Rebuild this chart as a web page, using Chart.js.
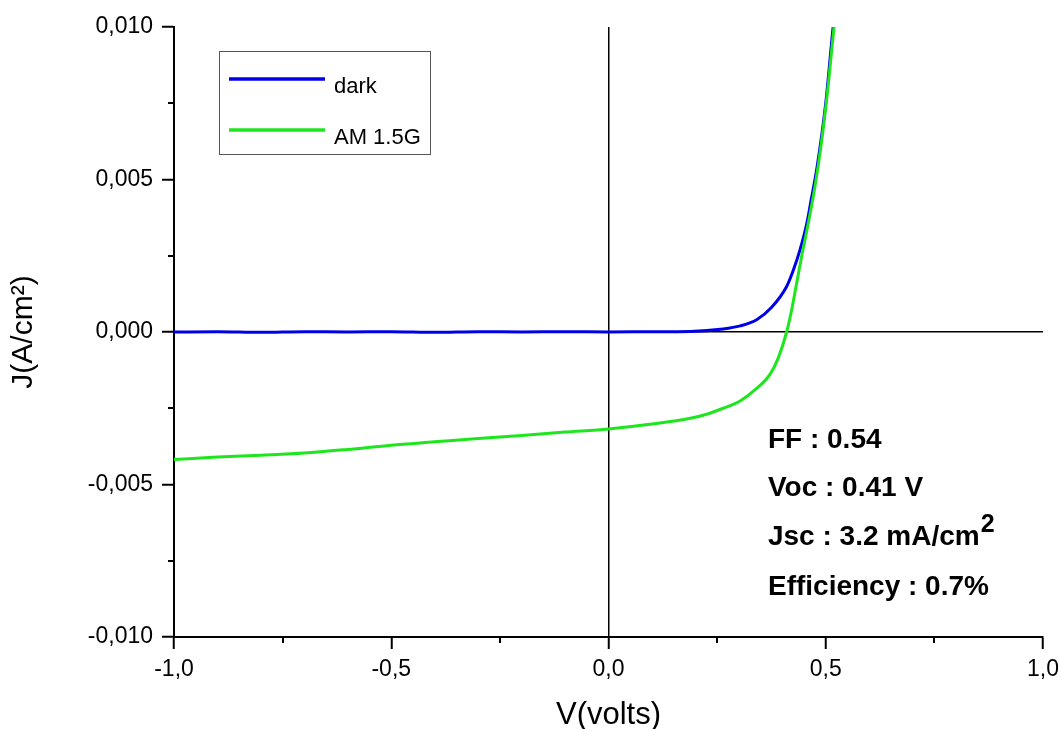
<!DOCTYPE html>
<html>
<head>
<meta charset="utf-8">
<script src="https://cdn.jsdelivr.net/npm/chart.js@4.4.1/dist/chart.umd.min.js"></script>
<style>
  body { margin: 0; background: #fff; }
  #wrap { width: 1062px; height: 729px; }
</style>
</head>
<body>
<div id="wrap"><canvas id="ivChart" width="1062" height="729"></canvas></div>
<script>
// J-V curves (V in volts, J in A/cm2)
const darkV = [-1.0, -0.9, -0.8, -0.7, -0.6, -0.5, -0.4, -0.3, -0.2, -0.1, 0.0, 0.1, 0.188, 0.264, 0.303, 0.341, 0.375, 0.41, 0.4255, 0.4407, 0.457, 0.466, 0.48, 0.5, 0.517, 0.522];
const darkJ = [0.00000, 0.00001, -0.00001, 0.00001, 0.00000, 0.00001, -0.00001, 0.00001, 0.00000, 0.00001, 0.00000, 0.00001, 0.00002, 0.00010, 0.00020, 0.00040, 0.00080, 0.00149, 0.00203, 0.00269, 0.00360, 0.00430, 0.00540, 0.00750, 0.01000, 0.01060];

const lightV = [-1.0, -0.9, -0.8, -0.7, -0.6, -0.5, -0.4, -0.3, -0.2, -0.1, 0.0, 0.1, 0.188, 0.23, 0.264, 0.303, 0.341, 0.372, 0.391, 0.41, 0.4215, 0.433, 0.4445, 0.452, 0.465, 0.475, 0.49, 0.505, 0.519, 0.524];
const lightJ = [-0.00418, -0.00410, -0.00404, -0.00397, -0.00385, -0.00371, -0.00360, -0.00349, -0.00339, -0.00328, -0.00318, -0.00302, -0.00283, -0.00268, -0.00250, -0.00226, -0.00185, -0.00138, -0.00084, 0.00000, 0.00072, 0.00160, 0.00248, 0.00300, 0.00395, 0.00475, 0.00620, 0.00800, 0.01000, 0.01070];

const seriesLabels = ['dark', 'AM 1.5G'];
const seriesColors = ['#0000e6', '#1ee61e'];

const infoLines = ['FF : 0.54', 'Voc : 0.41 V', 'Jsc : 3.2 mA/cm', 'Efficiency : 0.7%'];

const FONT = "'Liberation Sans', Arial, sans-serif";

function toPoints(xs, ys) {
  return xs.map((v, i) => ({ x: v, y: ys[i] }));
}

function isMajor(value, step) {
  return Math.abs(value / step - Math.round(value / step)) < 1e-6;
}

// minor ticks, legend box and the parameter text
const extras = {
  id: 'extras',
  afterDraw(chart) {
    const { ctx, scales: { x, y } } = chart;
    ctx.save();
    ctx.strokeStyle = '#000';
    ctx.lineWidth = 2;
    x.ticks.forEach(t => {
      if (isMajor(t.value, 0.5)) return;
      const px = Math.round(x.getPixelForValue(t.value));
      ctx.beginPath();
      ctx.moveTo(px, x.top);
      ctx.lineTo(px, x.top + 6);
      ctx.stroke();
    });
    y.ticks.forEach(t => {
      if (isMajor(t.value, 0.005)) return;
      const py = Math.round(y.getPixelForValue(t.value));
      ctx.beginPath();
      ctx.moveTo(y.right, py);
      ctx.lineTo(y.right - 6, py);
      ctx.stroke();
    });

    // legend
    ctx.lineWidth = 1;
    ctx.strokeStyle = '#555';
    ctx.strokeRect(219.5, 51.5, 211, 103);
    ctx.font = '22px ' + FONT;
    ctx.fillStyle = '#000';
    ctx.textBaseline = 'alphabetic';
    chart.data.datasets.forEach((ds, i) => {
      const ly = 79 + i * 51;
      ctx.strokeStyle = ds.borderColor;
      ctx.lineWidth = 3.5;
      ctx.beginPath();
      ctx.moveTo(229, ly);
      ctx.lineTo(325, ly);
      ctx.stroke();
      ctx.fillText(ds.label, 334, ly + 14);
    });

    // parameters
    ctx.font = 'bold 28px ' + FONT;
    ctx.textBaseline = 'middle';
    const tx = x.getPixelForValue(0.367);
    const rows = [-0.00354, -0.00512, -0.00674, -0.00836];
    infoLines.forEach((s, i) => {
      const ty = y.getPixelForValue(rows[i]);
      ctx.fillText(s, tx, ty);
      if (i === 2) {
        const w = ctx.measureText(s).width;
        ctx.font = 'bold 25px ' + FONT;
        ctx.fillText('2', tx + w + 1, ty - 12);
        ctx.font = 'bold 28px ' + FONT;
      }
    });
    ctx.restore();
  }
};

const ctx = document.getElementById('ivChart').getContext('2d');
new Chart(ctx, {
  type: 'line',
  data: {
    datasets: [
      {
        label: seriesLabels[0],
        data: toPoints(darkV, darkJ),
        borderColor: seriesColors[0],
        borderWidth: 3,
        pointRadius: 0,
        cubicInterpolationMode: 'monotone',
        order: 1
      },
      {
        label: seriesLabels[1],
        data: toPoints(lightV, lightJ),
        borderColor: seriesColors[1],
        borderWidth: 3,
        pointRadius: 0,
        cubicInterpolationMode: 'monotone',
        order: 0
      }
    ]
  },
  options: {
    responsive: false,
    animation: false,
    layout: { padding: { top: 27, right: 19, left: 0, bottom: 0 } },
    plugins: {
      legend: { display: false },
      tooltip: { enabled: false }
    },
    scales: {
      x: {
        type: 'linear',
        min: -1,
        max: 1,
        afterFit(s) {
          s.height = 92;
          s.paddingLeft = 0;
          s.paddingRight = 0;
        },
        ticks: {
          stepSize: 0.25,
          autoSkip: false,
          maxRotation: 0,
          padding: 7,
          color: '#000',
          font: { family: FONT, size: 23 },
          callback: v => isMajor(v, 0.5) ? v.toFixed(1).replace('.', ',') : ''
        },
        grid: {
          color: c => (c.tick && Math.abs(c.tick.value) < 1e-9) ? '#000' : 'rgba(0,0,0,0)',
          lineWidth: 1.5,
          tickLength: 12,
          tickWidth: 2,
          tickColor: c => (c.tick && isMajor(c.tick.value, 0.5)) ? '#000' : 'rgba(0,0,0,0)'
        },
        border: { color: '#000', width: 2 },
        title: {
          display: true,
          text: 'V(volts)',
          color: '#000',
          font: { family: FONT, size: 31, lineHeight: 0.9 },
          padding: { top: 0, bottom: 0 }
        }
      },
      y: {
        min: -0.01,
        max: 0.01,
        afterFit(s) {
          s.width = 174;
          s.paddingTop = 0;
          s.paddingBottom = 0;
        },
        ticks: {
          stepSize: 0.0025,
          autoSkip: false,
          padding: 9,
          color: '#000',
          font: { family: FONT, size: 23 },
          callback: v => isMajor(v, 0.005) ? v.toFixed(3).replace('.', ',').replace('-0,000', '0,000') : ''
        },
        grid: {
          color: c => (c.tick && Math.abs(c.tick.value) < 1e-9) ? '#000' : 'rgba(0,0,0,0)',
          lineWidth: 1.5,
          tickLength: 12,
          tickWidth: 2,
          tickColor: c => (c.tick && isMajor(c.tick.value, 0.005)) ? '#000' : 'rgba(0,0,0,0)'
        },
        border: { color: '#000', width: 2 },
        title: {
          display: true,
          text: 'J(A/cm²)',
          color: '#000',
          font: { family: FONT, size: 30 },
          padding: { top: 6, bottom: 0 }
        }
      }
    }
  },
  plugins: [extras]
});
</script>
</body>
</html>
